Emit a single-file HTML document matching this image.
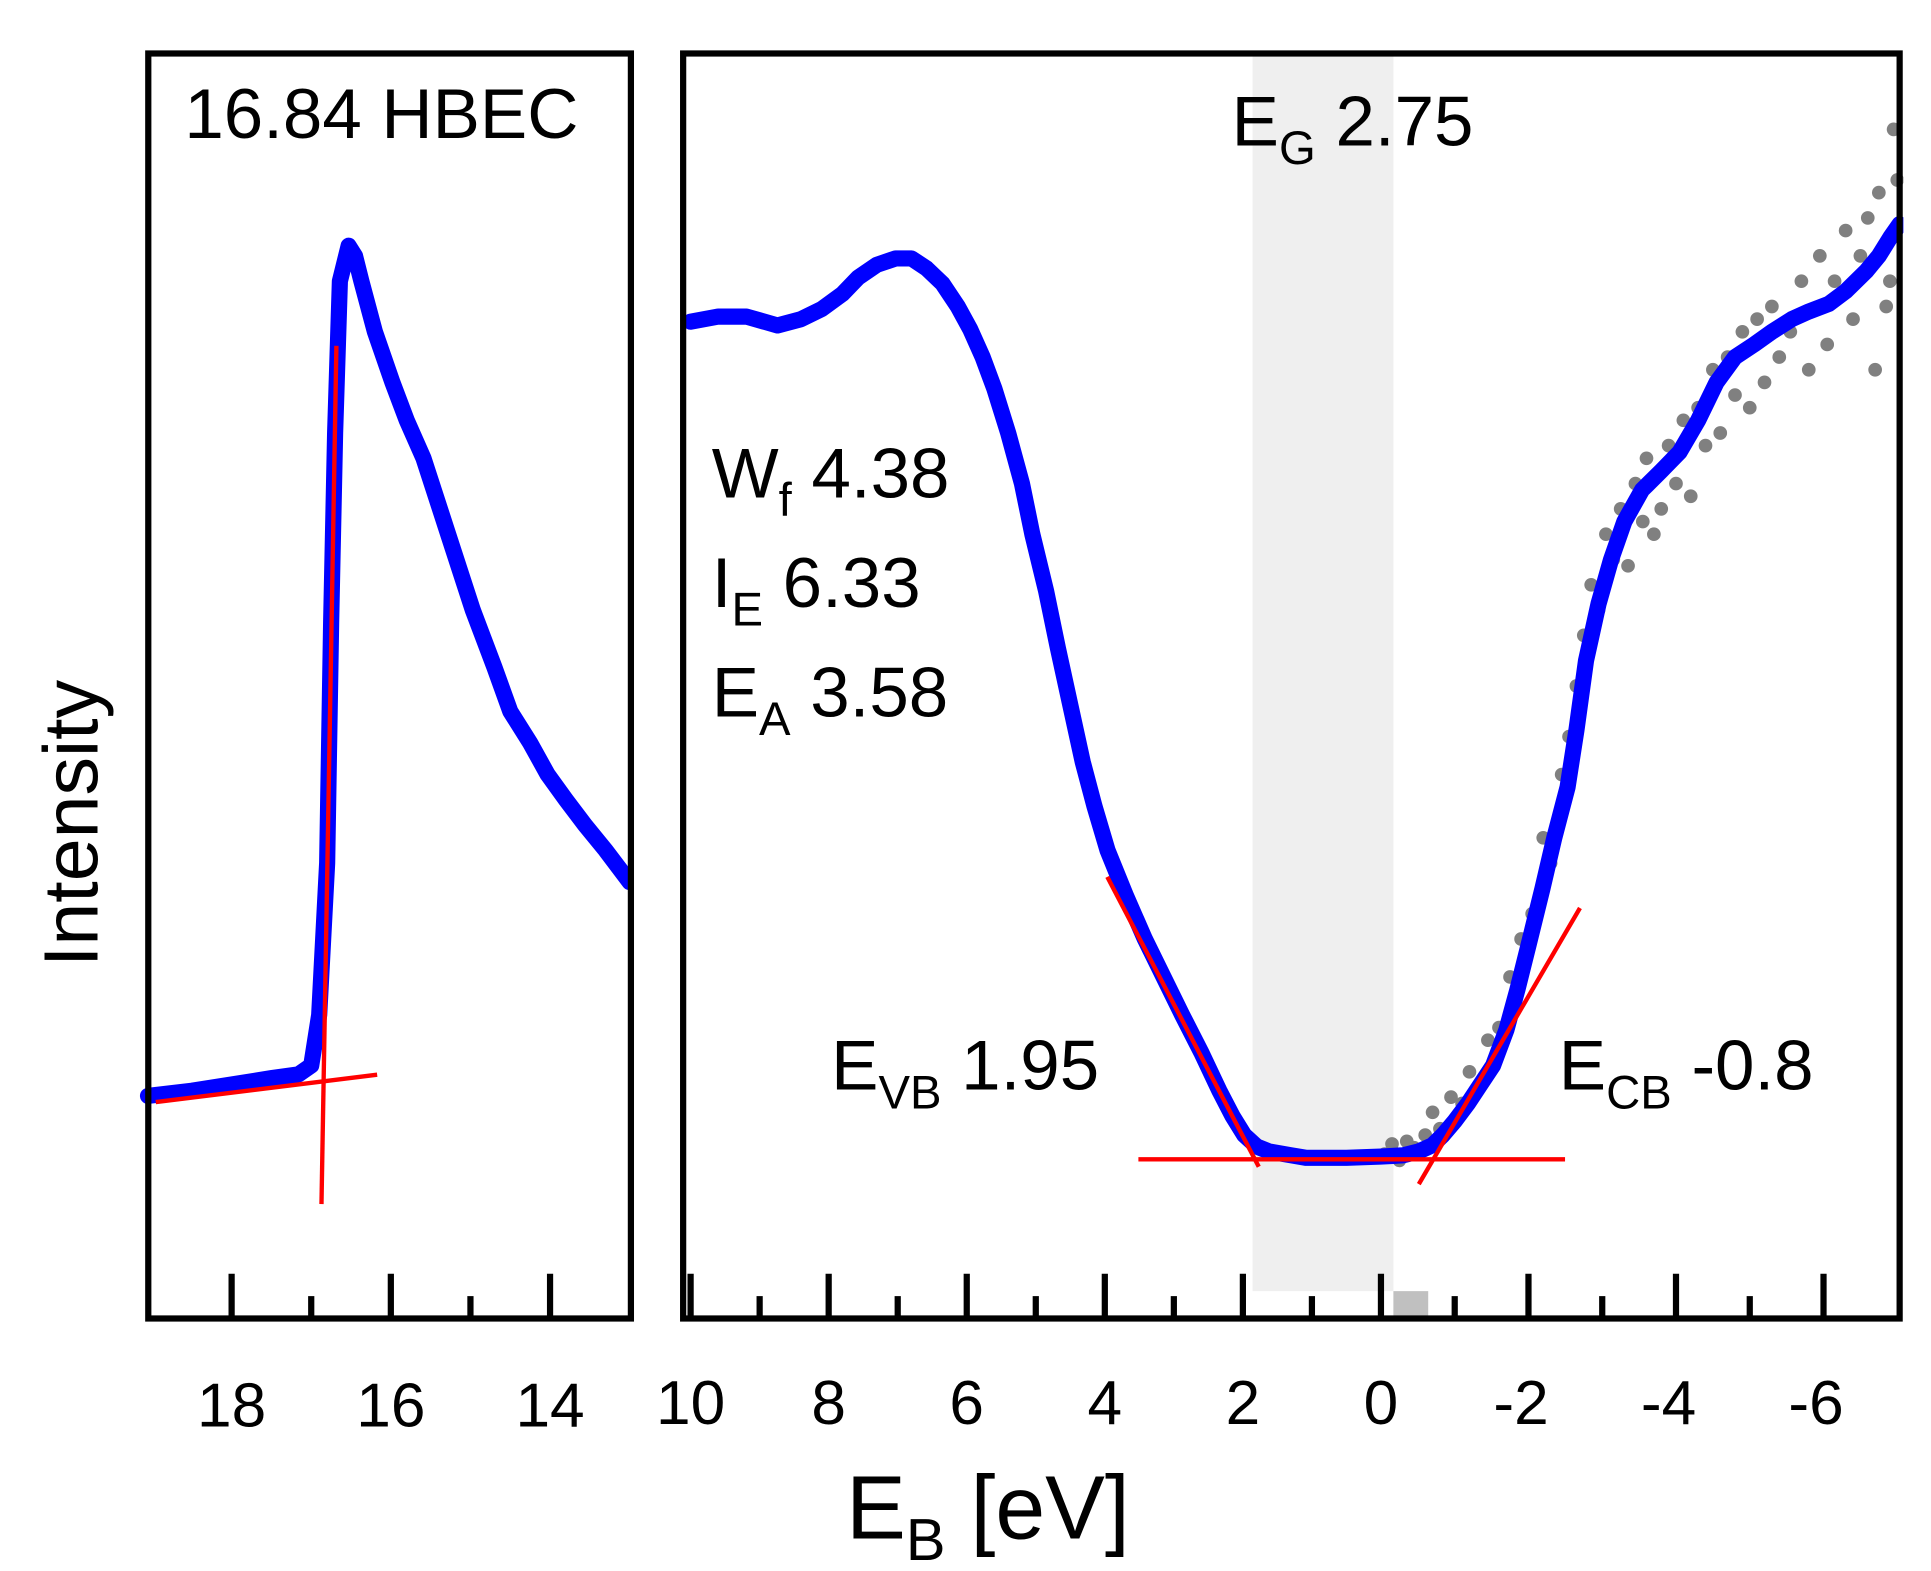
<!DOCTYPE html>
<html><head><meta charset="utf-8"><style>
html,body{margin:0;padding:0;background:#fff;}
svg{display:block;}
text{font-family:"Liberation Sans",Arial,sans-serif;fill:#000;}
</style></head><body>
<svg id="chart" width="1931" height="1571" viewBox="0 0 1552 1263" xmlns="http://www.w3.org/2000/svg">
<rect x="0" y="0" width="1552" height="1263" fill="#fff"/>
<g id="band"></g>
<g id="leftg"></g>
<g id="rightg"></g>
<g id="frames"></g>
<g font-size="57">
<text x="148" y="111">16.84 HBEC</text>
<text x="990" y="117">E<tspan font-size="38" dy="15">G</tspan><tspan dy="-15"> 2.75</tspan></text>
<text x="572" y="400">W<tspan font-size="38" dy="15">f</tspan><tspan dy="-15"> 4.38</tspan></text>
<text x="572" y="488">I<tspan font-size="38" dy="15">E</tspan><tspan dy="-15"> 6.33</tspan></text>
<text x="572" y="576">E<tspan font-size="38" dy="15">A</tspan><tspan dy="-15"> 3.58</tspan></text>
<text x="668" y="876">E<tspan font-size="38" dy="15">VB</tspan><tspan dy="-15"> 1.95</tspan></text>
<text x="1253" y="876">E<tspan font-size="38" dy="15">CB</tspan><tspan dy="-15"> -0.8</tspan></text>
<text x="680" y="1237" font-size="72">E<tspan font-size="48" dy="17">B</tspan><tspan dy="-17"> [eV]</tspan></text>
<text transform="translate(78,662) rotate(-90)" text-anchor="middle" font-size="62">Intensity</text>
</g>
</svg>
<script>
// ---- data ----
const leftE = [19.05,18.5,18,17.5,17.16,17.0,16.9,16.85,16.8,16.75,16.7,16.64,16.53,16.45,16.37,16.2,15.98,15.8,15.59,15.28,14.97,14.7,14.5,14.25,14.03,13.8,13.56,13.3,13.0];
const leftI = [17.6,18.0,18.5,19.0,19.3,20.0,24,30,36,55,70,82,84.8,84,82,78,74,71,68,62,56,51.5,48,45.5,43,41,39,37,34.5];
const leftTicksMajor = [18,16,14];
const leftTicksMinor = [17,15];
const rightE = [10,9.6,9.19,8.74,8.4,8.1,7.8,7.57,7.3,7.03,6.8,6.58,6.35,6.13,5.95,5.77,5.6,5.4,5.2,5.05,4.85,4.68,4.5,4.32,4.15,3.96,3.7,3.42,3.15,2.88,2.6,2.34,2.15,1.98,1.8,1.62,1.3,1.08,0.5,0,-0.3,-0.51,-0.7,-0.84,-1.0,-1.18,-1.35,-1.52,-1.7,-1.85,-2.0,-2.19,-2.35,-2.53,-2.65,-2.78,-2.95,-3.12,-3.3,-3.54,-3.8,-4.05,-4.3,-4.55,-4.8,-5.06,-5.3,-5.57,-5.8,-6.07,-6.3,-6.58,-6.75,-6.91,-7.03];
const rightI = [78.8,79.2,79.2,78.5,79,79.8,81,82.3,83.3,83.8,83.8,83,81.8,80,78.2,76,73.5,70,66,62,57.5,53,48.5,44,40.5,37,33.5,30,27,24,21,18,16,14.5,13.6,13.2,12.9,12.7,12.7,12.8,12.9,13.2,13.7,14.5,15.6,17,18.5,20,22.8,26,29.5,34,38,42,46.5,52,56.5,60,63,65.5,67,68.5,71,74,76,77,78,79,79.6,80.2,81.2,82.8,84,85.5,86.5];
const dotE = [-0.05,-0.15,-0.25,-0.35,-0.45,-0.6,-0.7,-0.8,-0.95,-1.1,-1.2,-1.3,-1.45,-1.6,-1.75,-1.9,-2.05,-2.2,-2.3,-2.45,-2.55,-2.65,-2.75,-2.85,-2.95,-3.05,-3.15,-3.25,-3.35,-3.45,-3.55,-3.6,-3.7,-3.8,-3.9,-4.0,-4.1,-4.2,-4.3,-4.4,-4.5,-4.6,-4.7,-4.8,-4.9,-5.0,-5.1,-5.2,-5.3,-5.4,-5.55,-5.7,-5.8,-5.95,-6.05,-6.15,-6.3,-6.4,-6.5,-6.6,-6.7,-6.75,-6.85,-6.95,-7.0,-6.9];
const dotI = [13.0,13.8,12.5,14.0,13.5,14.5,16.3,15.0,17.5,17,19.5,18,22,23,27,30,32,38,36,43,46,50,54,58,56,62,60,64,59.5,66,63,68,62,64,69,66,71,65,72,69,75,70,76,73,78,72,79,74,80,76,78,82,75,84,77,82,86,79,84,87,75,89,80,94,90,82];
const rightTicksMajor = [10,8,6,4,2,0,-2,-4,-6];
const rightTickLabels = ["10","8","6","4","2","0","-2","-4","-6"];
const rightTicksMinor = [9,7,5,3,1,-1,-3,-5];
const evb = 1.95, ecb = -0.8, hbec = 16.84;

// ---- scales ----
const Y0 = 1060;
const yS = I => Y0 - I*10.17;
const xL = E => 186 + (18-E)*64;
const xR = E => E >= 0 ? 1110 - E*55.5 : 1110 - E*59.3;
const NS = "http://www.w3.org/2000/svg";
function mk(tag, parent, attrs){const e=document.createElementNS(NS,tag);for(const k in attrs)e.setAttribute(k,attrs[k]);parent.appendChild(e);return e;}

// band
const band = document.getElementById('band');
const b1 = mk('rect', band, {x:xR(evb)+5, y:43, width:xR(0)-xR(evb)+5, height:995, fill:'#efefef'});


const b2 = mk('rect', band, {x:xR(0)+10, y:1038, width:28, height:20, fill:'#c0c0c0'});



// left panel
const lg = document.getElementById('leftg');
const lp = mk('polyline', lg, {points:leftE.map((e,i)=>xL(e)+','+yS(leftI[i])).join(' '), fill:'none', stroke:'#0000ff','stroke-width':13,'stroke-linejoin':'round','stroke-linecap':'round'});


const lr1 = mk('line', lg, {x1:125,y1:886,x2:303,y2:864,stroke:'#ff0000','stroke-width':3.5});


const lr2 = mk('line', lg, {x1:xL(hbec)-2,y1:968,x2:xL(hbec)+10,y2:278,stroke:'#ff0000','stroke-width':3.5});


leftTicksMajor.forEach(t=>{
  const l = mk('line', lg, {x1:xL(t),y1:1060,x2:xL(t),y2:1024,stroke:'#000','stroke-width':5});
  
  
  const tx = mk('text', lg, {x:xL(t), y:1147, 'text-anchor':'middle','font-size':50});
  tx.textContent = String(t);
  
  
});
leftTicksMinor.forEach(t=>{
  const l = mk('line', lg, {x1:xL(t),y1:1060,x2:xL(t),y2:1042,stroke:'#000','stroke-width':5});
  
  
});

// right panel
const rg = document.getElementById('rightg');
dotE.forEach((e,i)=>{
  const c = mk('circle', rg, {cx:xR(e), cy:yS(dotI[i]), r:5.5, fill:'#808080'});
  
  
});
const rp = mk('polyline', rg, {points:rightE.map((e,i)=>xR(e)+','+yS(rightI[i])).join(' '), fill:'none', stroke:'#0000ff','stroke-width':13,'stroke-linejoin':'round','stroke-linecap':'round'});


const rr1 = mk('line', rg, {x1:915,y1:932,x2:1258,y2:932,stroke:'#ff0000','stroke-width':3.5});


const rr2 = mk('line', rg, {x1:890,y1:705,x2:xR(evb)+10,y2:938,stroke:'#ff0000','stroke-width':3.5});


const rr3 = mk('line', rg, {x1:xR(ecb)-17,y1:952,x2:1270,y2:730,stroke:'#ff0000','stroke-width':3.5});


rightTicksMajor.forEach((t,i)=>{
  const l = mk('line', rg, {x1:xR(t),y1:1060,x2:xR(t),y2:1024,stroke:'#000','stroke-width':5});
  
  
  const tx = mk('text', rg, {x:xR(t)+(t<0?-6:0), y:1145, 'text-anchor':'middle','font-size':50});
  tx.textContent = rightTickLabels[i];
  
  
});
rightTicksMinor.forEach(t=>{
  const l = mk('line', rg, {x1:xR(t),y1:1060,x2:xR(t),y2:1042,stroke:'#000','stroke-width':5});
  
  
});

// frames
const fr = document.getElementById('frames');
const m = mk('rect', fr, {x:1530,y:0,width:22,height:1263,fill:'#fff'});


const m2 = mk('rect', fr, {x:509,y:0,width:38,height:1062,fill:'#fff'});


const f1 = mk('rect', fr, {x:119,y:43,width:388,height:1017,fill:'none',stroke:'#000','stroke-width':5});


const f2 = mk('rect', fr, {x:549,y:43,width:978,height:1017,fill:'none',stroke:'#000','stroke-width':5});


</script>
</body></html>
